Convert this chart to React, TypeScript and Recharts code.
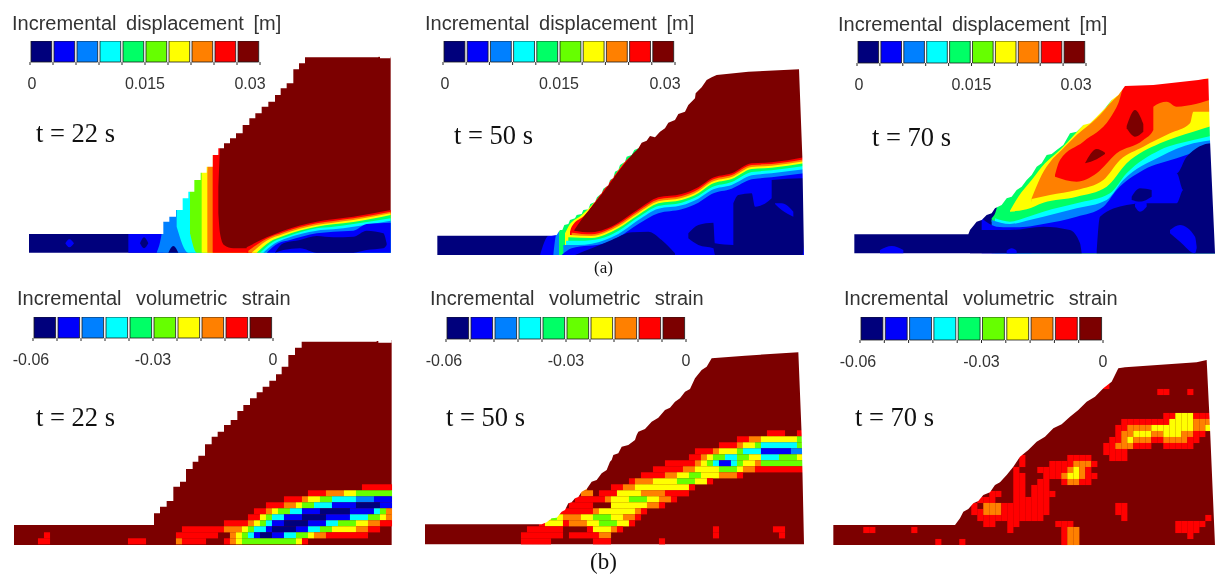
import React from 'react';
import { Area, Bar, BarChart, Cell, ComposedChart, Scatter, XAxis, YAxis } from 'recharts';

// contour levels, low to high
const LEVEL_COLORS = ['#00007c', '#0000fa', '#0080ff', '#00ffff', '#00ff66', '#66ff00', '#ffff00', '#ff8000', '#ff0000', '#7c0000'];

const DISP_TICKS = [0, 0.015, 0.03];
const STRAIN_TICKS = [-0.06, -0.03, 0];
const DISP_TITLE = 'Incremental displacement [m]';
const STRAIN_TITLE = 'Incremental volumetric strain';

// each layer: [level, rows of [x, upper edge, lower edge]], painted in order
type Layer = [number, number[][]];
type CellRow = [number, number, string];

const surface22a = [[84, 702], [490, 665], [508, 650], [528, 630], [548, 595], [565, 575], [583, 540], [602, 518], [620, 500], [638, 465], [655, 445], [672, 430], [690, 415], [708, 400], [728, 375], [748, 355], [766, 340], [785, 320], [805, 305], [825, 285], [842, 265], [860, 250], [880, 208], [897, 190], [915, 172], [1135, 170], [1140, 175], [1172, 175]];
const layers22a: Layer[] = [
  [0, [[87, 170, 758], [1165, 170, 758]]],
  [1, [[385, 702, 758], [490, 702, 758]]],
  [0, [[420, 730, 730], [432, 712, 745], [445, 730, 730]]],
  [1, [[196, 730, 730], [208, 718, 742], [222, 730, 730]]],
  [2, [[470, 758, 758], [490, 660, 758], [491, 170, 758], [1165, 170, 758]]],
  [0, [[505, 758, 758], [520, 738, 758], [535, 758, 758]]],
  [3, [[530, 600, 680], [565, 170, 758], [1165, 170, 758]]],
  [5, [[570, 560, 700], [590, 170, 758], [1165, 170, 758]]],
  [6, [[605, 500, 758], [606, 170, 758], [1165, 170, 758]]],
  [7, [[622, 520, 758], [640, 170, 758], [1165, 170, 758]]],
  [8, [[638, 480, 758], [655, 170, 758], [1165, 170, 758]]],
  [9, [[655, 560, 640], [660, 440, 700], [672, 170, 735], [700, 170, 745], [1172, 170, 745]]],
  [8, [[740, 742, 758], [800, 712, 758], [850, 692, 758], [950, 665, 758], [1000, 658, 758], [1060, 650, 758], [1172, 630, 758]]],
  [7, [[745, 752, 758], [800, 716, 758], [850, 697, 758], [950, 670, 758], [1000, 663, 758], [1060, 655, 758], [1172, 635, 758]]],
  [6, [[755, 758, 758], [800, 722, 758], [850, 702, 758], [950, 675, 758], [1000, 668, 758], [1060, 660, 758], [1172, 640, 758]]],
  [4, [[770, 758, 758], [810, 725, 758], [850, 708, 758], [950, 680, 758], [1000, 673, 758], [1060, 666, 758], [1172, 645, 758]]],
  [3, [[780, 758, 758], [820, 725, 758], [860, 710, 758], [950, 685, 758], [1000, 680, 758], [1060, 672, 758], [1172, 655, 758]]],
  [2, [[790, 758, 758], [825, 730, 758], [860, 715, 758], [950, 692, 758], [1000, 688, 758], [1060, 680, 758], [1172, 662, 758]]],
  [1, [[800, 758, 758], [835, 730, 758], [870, 720, 758], [950, 700, 758], [1000, 695, 758], [1060, 692, 758], [1100, 672, 758], [1172, 668, 758]]],
  [0, [[825, 758, 758], [850, 730, 750], [900, 720, 745], [950, 708, 758], [1000, 712, 758], [1060, 710, 758], [1100, 692, 750], [1150, 700, 745], [1160, 730, 735]]],
];

const surface50a = [[94, 707], [440, 707], [455, 705], [465, 690], [472, 690], [478, 675], [490, 672], [495, 660], [510, 655], [515, 645], [530, 642], [535, 630], [550, 628], [556, 612], [570, 606], [576, 592], [590, 580], [595, 566], [610, 556], [615, 540], [625, 534], [630, 515], [640, 510], [645, 495], [660, 485], [665, 470], [680, 465], [688, 450], [700, 445], [710, 428], [725, 422], [735, 408], [750, 412], [765, 395], [780, 385], [790, 368], [810, 360], [820, 342], [840, 335], [850, 315], [870, 295], [872, 280], [890, 262], [905, 240], [920, 232], [935, 225], [1030, 215], [1182, 208], [1192, 470], [1197, 765]];
const layers50a: Layer[] = [
  [0, [[97, 200, 765], [1190, 200, 765]]],
  [1, [[405, 765, 765], [430, 707, 765], [460, 700, 765]]],
  [2, [[445, 765, 765], [455, 700, 765], [480, 690, 765]]],
  [4, [[462, 690, 765], [475, 660, 765], [700, 200, 765], [1190, 200, 765]]],
  [6, [[480, 700, 765], [490, 680, 765], [530, 645, 765], [570, 605, 765], [610, 555, 765], [650, 497, 765], [700, 445, 765], [701, 200, 765], [1190, 200, 765]]],
  [8, [[495, 695, 765], [500, 680, 765], [540, 645, 765], [580, 592, 765], [620, 538, 765], [660, 485, 765], [705, 435, 765], [706, 200, 765], [1190, 200, 765]]],
  [9, [[508, 690, 765], [520, 672, 765], [560, 620, 765], [600, 570, 765], [640, 515, 765], [680, 465, 765], [710, 425, 765], [711, 200, 765], [1197, 200, 765]]],
  [8, [[505, 692, 765], [560, 697, 765], [600, 688, 765], [640, 668, 765], [700, 628, 765], [760, 592, 765], [830, 582, 765], [880, 562, 765], [920, 535, 765], [980, 520, 765], [1040, 490, 765], [1100, 487, 765], [1197, 472, 765]]],
  [7, [[500, 698, 765], [560, 703, 765], [600, 693, 765], [640, 673, 765], [700, 633, 765], [760, 598, 765], [830, 588, 765], [880, 568, 765], [920, 540, 765], [980, 525, 765], [1040, 495, 765], [1100, 492, 765], [1197, 478, 765]]],
  [6, [[495, 705, 765], [560, 708, 765], [600, 698, 765], [640, 679, 765], [700, 639, 765], [760, 604, 765], [830, 594, 765], [880, 574, 765], [920, 546, 765], [980, 531, 765], [1040, 501, 765], [1100, 497, 765], [1197, 484, 765]]],
  [4, [[490, 712, 765], [560, 714, 765], [600, 704, 765], [640, 685, 765], [700, 645, 765], [760, 610, 765], [830, 600, 765], [880, 580, 765], [920, 552, 765], [980, 537, 765], [1040, 507, 765], [1100, 503, 765], [1197, 490, 765]]],
  [3, [[483, 722, 765], [540, 722, 765], [600, 712, 765], [640, 693, 765], [700, 652, 765], [760, 618, 765], [830, 608, 765], [880, 588, 765], [920, 562, 765], [980, 546, 765], [1040, 516, 765], [1100, 511, 765], [1197, 498, 765]]],
  [2, [[475, 735, 765], [520, 735, 765], [600, 720, 765], [640, 702, 765], [700, 660, 765], [760, 626, 765], [830, 616, 765], [880, 596, 765], [920, 570, 765], [980, 555, 765], [1040, 526, 765], [1100, 520, 765], [1197, 508, 765]]],
  [1, [[470, 765, 765], [500, 745, 765], [600, 730, 765], [640, 712, 765], [700, 672, 765], [760, 640, 765], [830, 628, 765], [880, 608, 765], [920, 582, 765], [980, 566, 765], [1040, 538, 765], [1100, 532, 765], [1197, 520, 765]]],
  [0, [[510, 765, 765], [560, 745, 765], [620, 720, 765], [680, 697, 765], [730, 695, 765], [770, 720, 765], [810, 760, 765]]],
  [0, [[850, 700, 715], [880, 675, 735], [925, 668, 745], [930, 730, 765], [985, 735, 765], [1110, 735, 765], [1197, 738, 738]]],
  [0, [[985, 610, 735], [1000, 585, 765], [1040, 580, 765], [1050, 620, 765], [1100, 595, 765], [1100, 540, 765], [1192, 535, 765], [1197, 535, 738]]],
  [1, [[1110, 610, 612], [1130, 610, 630], [1165, 635, 650]]],
];

const surface70a = [[130, 703], [475, 703], [480, 690], [500, 665], [515, 660], [530, 645], [545, 640], [555, 625], [575, 615], [590, 595], [605, 590], [620, 570], [635, 560], [650, 540], [665, 525], [680, 500], [695, 490], [710, 465], [725, 462], [740, 450], [760, 435], [780, 400], [800, 395], [820, 375], [840, 370], [860, 350], [885, 325], [905, 300], [925, 285], [945, 258], [1030, 255], [1165, 240], [1195, 235], [1200, 420], [1215, 760]];
const layers70a: Layer[] = [
  [0, [[133, 200, 760], [1215, 200, 760]]],
  [4, [[545, 655, 665], [560, 625, 680], [590, 200, 760], [1215, 200, 760]]],
  [6, [[600, 632, 640], [625, 590, 700], [665, 540, 760], [705, 490, 760], [750, 450, 760], [840, 355, 760], [905, 300, 760], [925, 200, 760], [1215, 200, 760]]],
  [7, [[665, 595, 600], [695, 525, 760], [725, 480, 760], [745, 460, 760], [800, 405, 760], [860, 355, 760], [905, 305, 760], [925, 285, 760], [945, 258, 760], [1215, 250, 760]]],
  [8, [[735, 525, 535], [750, 480, 760], [820, 425, 760], [900, 355, 760], [925, 310, 760], [945, 255, 760], [1215, 235, 760]]],
  [7, [[735, 530, 760], [800, 545, 760], [860, 520, 760], [920, 460, 760], [1000, 420, 760], [1030, 390, 760], [1030, 320, 760], [1070, 305, 760], [1100, 320, 760], [1215, 295, 760]]],
  [6, [[665, 597, 760], [720, 585, 760], [800, 570, 760], [880, 540, 760], [930, 480, 760], [1000, 440, 760], [1080, 400, 760], [1140, 370, 760], [1150, 335, 760], [1215, 335, 760]]],
  [4, [[600, 635, 760], [650, 628, 760], [700, 608, 760], [800, 590, 760], [890, 560, 760], [950, 490, 760], [1050, 430, 760], [1150, 395, 760], [1215, 375, 760]]],
  [3, [[555, 655, 760], [600, 665, 760], [650, 652, 760], [700, 635, 760], [800, 610, 760], [900, 580, 760], [950, 520, 760], [1050, 450, 760], [1150, 420, 760], [1215, 405, 760]]],
  [2, [[545, 660, 760], [600, 672, 760], [650, 662, 760], [700, 650, 760], [800, 625, 760], [890, 600, 760], [940, 540, 760], [1050, 470, 760], [1150, 430, 760], [1215, 420, 760]]],
  [1, [[515, 655, 760], [560, 680, 760], [600, 682, 760], [650, 680, 760], [700, 672, 760], [800, 650, 760], [880, 620, 760], [920, 570, 760], [1000, 510, 760], [1100, 475, 760], [1215, 435, 760]]],
  [0, [[480, 690, 760], [520, 690, 760], [600, 690, 760], [700, 680, 760], [780, 690, 760], [810, 730, 760], [815, 760, 760]]],
  [0, [[860, 760, 760], [870, 650, 760], [950, 615, 760], [1000, 610, 760], [1100, 610, 760], [1120, 570, 760], [1100, 520, 760], [1130, 470, 760], [1205, 430, 760], [1215, 430, 760]]],
  [0, [[965, 590, 600], [990, 565, 605], [1025, 570, 590]]],
  [1, [[210, 750, 760], [245, 738, 760], [280, 750, 760]]],
  [1, [[590, 752, 760], [605, 745, 760], [620, 752, 760]]],
  [1, [[975, 612, 620], [990, 605, 635], [1010, 610, 620]]],
  [1, [[1080, 690, 700], [1110, 675, 725], [1155, 710, 760], [1160, 740, 745]]],
  [9, [[825, 490, 490], [860, 447, 478], [885, 458, 462]]],
  [9, [[950, 378, 385], [975, 330, 410], [1000, 372, 395]]],
  [8, [[1035, 241, 248], [1060, 241, 248]]],
];

const surface22b = [[39, 720], [462, 685], [480, 665], [500, 648], [520, 605], [540, 590], [558, 552], [578, 530], [595, 512], [615, 478], [635, 455], [653, 440], [672, 420], [692, 405], [712, 378], [730, 360], [750, 340], [770, 322], [788, 305], [808, 287], [828, 268], [845, 245], [865, 210], [885, 188], [905, 170], [1130, 168], [1135, 173], [1175, 173]];
const layers22b: Layer[] = [[9, [[42, 165, 780], [1175, 165, 780]]]];
// cells: [row, first column, one digit per cell]
const cells22b: CellRow[] = [
  [0, 58, '88888'],
  [1, 49, '88877766555555'],
  [2, 45, '888766553333222111'],
  [3, 42, '888776553331111000011'],
  [4, 40, '88765533111000001111357'],
  [5, 39, '886533111000011113335567'],
  [6, 35, '8888765311000011133555667788'],
  [7, 28, '888888877765331000011335566667788'],
  [8, 5, '8'],
  [8, 27, '8888888'],
  [8, 36, '76531001133556778888888'],
  [9, 4, '88'],
  [9, 19, '888'],
  [9, 27, '78888'],
  [9, 35, '87655555555568'],
];

const surface50b = [[57, 718], [410, 718], [425, 712], [440, 700], [455, 698], [470, 680], [480, 675], [490, 655], [500, 652], [510, 640], [520, 636], [530, 620], [545, 612], [560, 590], [575, 585], [590, 565], [605, 555], [615, 530], [620, 525], [625, 510], [640, 505], [650, 485], [670, 480], [690, 465], [695, 450], [700, 440], [720, 432], [740, 410], [760, 398], [780, 375], [795, 368], [810, 350], [825, 340], [840, 320], [855, 312], [870, 280], [890, 255], [905, 245], [920, 220], [1020, 212], [1180, 202], [1190, 450], [1197, 778]];
const layers50b: Layer[] = [[9, [[60, 200, 778], [1197, 200, 778]]]];
const cells50b: CellRow[] = [
  [0, 57, '888'],
  [0, 62, '8'],
  [1, 52, '88776666665'],
  [2, 49, '88876653333335'],
  [3, 45, '888766653331111122'],
  [4, 44, '8876553355663335556'],
  [5, 40, '88888765311356675555555'],
  [6, 38, '8888877666655567788888888'],
  [7, 36, '88887766556667778'],
  [8, 34, '87776666555668'],
  [9, 26, '7'],
  [9, 31, '88776666666668'],
  [10, 26, '77'],
  [10, 29, '888666677778888'],
  [11, 25, '888'],
  [11, 28, '88766655566778'],
  [12, 24, '8888'],
  [12, 31, '666666778'],
  [13, 22, '888888766666678'],
  [14, 20, '6567776655566778'],
  [15, 19, '8666877766555668'],
  [16, 17, '888888'],
  [16, 27, '866678'],
  [16, 48, '8'],
  [16, 58, '88'],
  [17, 16, '8888888'],
  [17, 24, '888'],
  [17, 27, '8877'],
  [17, 48, '8'],
  [17, 59, '8'],
  [18, 16, '88888'],
  [18, 28, '888'],
  [18, 39, '8'],
];

const surface70b = [[67, 720], [435, 720], [450, 700], [460, 680], [475, 672], [490, 655], [505, 648], [520, 630], [540, 622], [555, 600], [570, 592], [590, 570], [610, 545], [630, 515], [655, 495], [680, 470], [705, 455], [730, 430], [755, 418], [780, 395], [805, 375], [830, 350], [855, 335], [880, 310], [905, 290], [925, 250], [945, 247], [1160, 232], [1190, 225], [1200, 430], [1215, 780]];
const layers70b: Layer[] = [
  [9, [[70, 200, 780], [1215, 200, 780]]],
];
const cells70b: CellRow[] = [
  [-5, 45, '8'],
  [-4, 54, '88'],
  [-4, 59, '8'],
  [0, 55, '88666888'],
  [1, 48, '888888886666777'],
  [2, 47, '8877776666666776'],
  [3, 47, '877666776667788'],
  [4, 46, '887677788777788'],
  [5, 45, '88777888'],
  [5, 55, '88888'],
  [6, 45, '8888'],
  [7, 31, '8'],
  [7, 39, '8888'],
  [7, 46, '888'],
  [8, 31, '8'],
  [8, 36, '88887778'],
  [9, 30, '8'],
  [9, 34, '888887678'],
  [10, 30, '88'],
  [10, 35, '888766788'],
  [11, 30, '88'],
  [11, 34, '88'],
  [11, 38, '87788'],
  [12, 30, '88'],
  [12, 33, '888'],
  [13, 26, '88'],
  [13, 30, '88'],
  [13, 33, '8888'],
  [14, 24, '888'],
  [14, 30, '888888'],
  [15, 23, '8'],
  [15, 25, '77788888888'],
  [15, 47, '88'],
  [16, 23, '8877788888888'],
  [16, 47, '88'],
  [17, 24, '88888888888'],
  [17, 48, '8'],
  [17, 62, '8'],
  [18, 25, '88'],
  [18, 29, '88'],
  [18, 37, '888'],
  [18, 57, '88888'],
  [19, 5, '88'],
  [19, 13, '8'],
  [19, 29, '8'],
  [19, 38, '877'],
  [19, 57, '8888'],
  [20, 38, '877'],
  [20, 59, '8'],
  [21, 17, '8'],
  [21, 21, '8'],
  [21, 38, '877'],
];

const DOMAIN_W = 1215;
const CELL = 18;

const layerRows = (rows: number[][]) => rows.map(([x, top, bot]) => ({ x, y: [top, bot] }));
const surfaceRows = (rows: number[][]) => rows.map(([x, y]) => ({ x, y: [0, y] }));

const cellPoints = (cells: CellRow[], x0: number, y0: number) =>
  cells.flatMap(([row, col, digits]) =>
    digits.split('').map((d, i) => ({
      x: x0 + CELL * (col + i + 0.5),
      y: y0 + CELL * (row + 0.5),
      level: Number(d),
    })),
  );

const CellShape = (props: any) => (
  <rect
    x={props.cx - 3.05}
    y={props.cy - 3.05}
    width={6.1}
    height={6.1}
    fill={LEVEL_COLORS[props.payload?.level ?? props.level]}
  />
);

interface SectionProps {
  left: number;
  top: number;
  height: number;
  layers: Layer[];
  surface: number[][];
  stepped?: boolean;
  cells?: { x: number; y: number; level: number }[];
}

const Section = ({ left, top, height, layers, surface, stepped, cells }: SectionProps) => (
  <div style={{ position: 'absolute', left, top }}>
    <ComposedChart width={405} height={height} margin={{ top: 0, right: 0, bottom: 0, left: 0 }}>
      <XAxis type="number" dataKey="x" domain={[0, DOMAIN_W]} hide allowDataOverflow />
      <YAxis type="number" dataKey="y" domain={[0, height * 3]} reversed hide allowDataOverflow />
      {layers.map(([level, rows], i) => (
        <Area
          key={i}
          data={layerRows(rows)}
          dataKey="y"
          type="monotoneX"
          fill={LEVEL_COLORS[level]}
          fillOpacity={1}
          stroke="none"
          dot={false}
          activeDot={false}
          isAnimationActive={false}
        />
      ))}
      {cells && <Scatter data={cells} shape={<CellShape />} isAnimationActive={false} />}
      <Area
        data={surfaceRows(surface)}
        dataKey="y"
        type={stepped ? 'stepAfter' : 'linear'}
        fill="#ffffff"
        fillOpacity={1}
        stroke="none"
        dot={false}
        activeDot={false}
        isAnimationActive={false}
        zIndex={900}
      />
    </ComposedChart>
  </div>
);

interface ColorbarProps {
  left: number;
  top: number;
  width: number;
  height: number;
  min: number;
  max: number;
  labels: number[];
}

const PAD = 40;
const AXIS_H = 36;

const Colorbar = ({ left, top, width, height, min, max, labels }: ColorbarProps) => {
  const step = (max - min) / LEVEL_COLORS.length;
  const rows = LEVEL_COLORS.map((_, i) => ({ x: min + step * (i + 0.5), v: 1 }));
  const ticks = LEVEL_COLORS.map((_, i) => min + step * i).concat(max);
  const renderTick = (p: any) => {
    const hit = labels.find(l => Math.abs(l - p.payload.value) < step / 10);
    if (hit === undefined) return <g />;
    // the 0.03 label sits inside the end of the bar
    const shift = hit === 0.03 ? -10 : hit === -0.06 ? -2 : hit === 0 && min === 0 ? 2 : 0;
    return (
      <text x={p.x + shift} y={p.y + 14} textAnchor="middle" fontFamily="Liberation Sans" fontSize={16} fill="#333333">
        {String(hit)}
      </text>
    );
  };
  return (
    <div style={{ position: 'absolute', left: left - PAD, top }}>
      <BarChart width={width + PAD * 2} height={height + AXIS_H} data={rows} margin={{ top: 0, right: PAD, bottom: 0, left: PAD }} barCategoryGap={0}>
        <XAxis
          type="number"
          dataKey="x"
          domain={[min, max]}
          ticks={ticks}
          interval={0}
          height={AXIS_H}
          tickSize={3}
          tickMargin={10}
          axisLine={false}
          tickLine={{ stroke: '#222222' }}
          tick={renderTick}
        />
        <YAxis type="number" domain={[0, 1]} hide />
        <Bar dataKey="v" barSize={width / LEVEL_COLORS.length} stroke="#1a1a1a" strokeWidth={0.8} isAnimationActive={false}>
          {rows.map((_, i) => (
            <Cell key={i} fill={LEVEL_COLORS[i]} />
          ))}
        </Bar>
      </BarChart>
    </div>
  );
};

const titleStyle: React.CSSProperties = {
  position: 'absolute',
  fontFamily: 'Liberation Sans',
  fontSize: 20,
  lineHeight: '24px',
  color: '#333333',
  wordSpacing: 4,
  whiteSpace: 'nowrap',
};

const strainTitleStyle: React.CSSProperties = { ...titleStyle, wordSpacing: 9 };

const timeStyle: React.CSSProperties = {
  position: 'absolute',
  fontFamily: 'Liberation Serif',
  fontSize: 26.5,
  lineHeight: '30px',
  color: '#111111',
  whiteSpace: 'nowrap',
};

const Label = ({ left, top, style, text }: { left: number; top: number; style: React.CSSProperties; text: string }) => (
  <div style={{ ...style, left, top }}>{text}</div>
);

export default function App() {
  return (
    <div style={{ position: 'fixed', left: 0, top: 0, width: 1215, height: 574, background: '#ffffff', overflow: 'hidden', filter: 'blur(0.4px)' }}>
      <Section left={0} top={0} height={285} layers={layers22a} surface={surface22a} stepped />
      <Section left={405} top={0} height={285} layers={layers50a} surface={surface50a} />
      <Section left={810} top={0} height={285} layers={layers70a} surface={surface70a} />
      <Section left={0} top={285} height={289} layers={layers22b} surface={surface22b} stepped cells={cellPoints(cells22b, 42, 598)} />
      <Section left={405} top={285} height={289} layers={layers50b} surface={surface50b} cells={cellPoints(cells50b, 60, 436)} />
      <Section left={810} top={285} height={289} layers={layers70b} surface={surface70b} cells={cellPoints(cells70b, 70, 384)} />

      <Label left={12} top={11} style={titleStyle} text={DISP_TITLE} />
      <Label left={425} top={11} style={titleStyle} text={DISP_TITLE} />
      <Label left={838} top={12} style={titleStyle} text={DISP_TITLE} />
      <Label left={17} top={286} style={strainTitleStyle} text={STRAIN_TITLE} />
      <Label left={430} top={286} style={strainTitleStyle} text={STRAIN_TITLE} />
      <Label left={844} top={286} style={strainTitleStyle} text={STRAIN_TITLE} />

      <Colorbar left={30} top={41} width={230} height={21} min={0} max={0.03} labels={DISP_TICKS} />
      <Colorbar left={443} top={41} width={232} height={21} min={0} max={0.03} labels={DISP_TICKS} />
      <Colorbar left={857} top={41} width={229} height={22} min={0} max={0.03} labels={DISP_TICKS} />
      <Colorbar left={33} top={317} width={240} height={21} min={-0.06} max={0} labels={STRAIN_TICKS} />
      <Colorbar left={446} top={317} width={240} height={22} min={-0.06} max={0} labels={STRAIN_TICKS} />
      <Colorbar left={860} top={317} width={243} height={23} min={-0.06} max={0} labels={STRAIN_TICKS} />

      <Label left={36} top={118} style={timeStyle} text="t = 22 s" />
      <Label left={454} top={120} style={timeStyle} text="t = 50 s" />
      <Label left={872} top={122} style={timeStyle} text="t = 70 s" />
      <Label left={36} top={402} style={timeStyle} text="t = 22 s" />
      <Label left={446} top={402} style={timeStyle} text="t = 50 s" />
      <Label left={855} top={402} style={timeStyle} text="t = 70 s" />

      <Label left={594} top={258} style={{ ...timeStyle, fontSize: 17, lineHeight: '20px' }} text="(a)" />
      <Label left={590} top={549} style={{ ...timeStyle, fontSize: 23, lineHeight: '26px' }} text="(b)" />
    </div>
  );
}
